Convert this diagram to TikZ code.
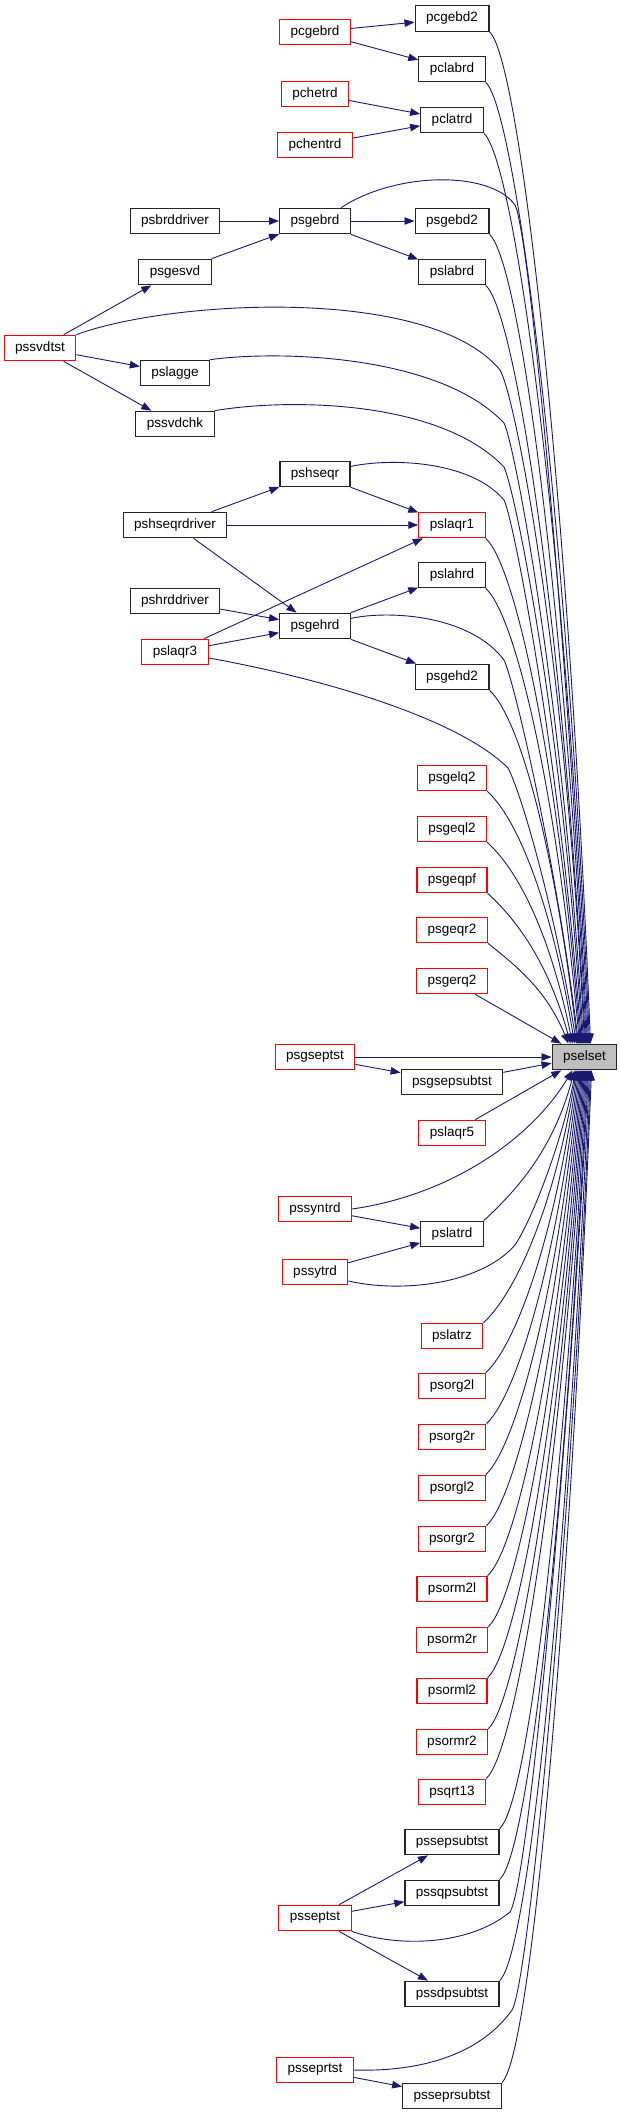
\documentclass[tikz,border=0pt]{standalone}
\usepackage{fontspec}
\setmainfont{Liberation Sans}
\usetikzlibrary{arrows.meta}
\definecolor{midnightblue}{HTML}{191970}
\begin{document}
\begin{tikzpicture}[x=1pt,y=-1pt,>={Triangle[length=10pt,width=7.5pt]},
  box/.style={draw=black!85,line width=1.2pt,fill=white,inner xsep=11pt,inner ysep=0pt,
    minimum height=25.5pt,font=\fontsize{13.5}{16}\selectfont},
  redbox/.style={box,draw=red},
  selbox/.style={box,fill=black!25},
  edge/.style={->,draw=midnightblue,line width=0.9pt}]
  \useasboundingbox (0,0) rectangle (619,2115);
  \node[selbox] (pselset) at (584.5,1057) {pselset};
  \node[box] (pcgebd2) at (452,18.5) {pcgebd2};
  \node[redbox] (pcgebrd) at (315,32) {pcgebrd};
  \node[box] (pclabrd) at (452,69) {pclabrd};
  \node[redbox] (pchetrd) at (315,94) {pchetrd};
  \node[box] (pclatrd) at (452,120) {pclatrd};
  \node[redbox] (pchentrd) at (315,145) {pchentrd};
  \node[box] (psbrddriver) at (175,221) {psbrddriver};
  \node[box] (psgebrd) at (315,221) {psgebrd};
  \node[box] (psgebd2) at (452,221) {psgebd2};
  \node[box] (psgesvd) at (175,272) {psgesvd};
  \node[box] (pslabrd) at (452,272) {pslabrd};
  \node[redbox] (pssvdtst) at (40,348) {pssvdtst};
  \node[box] (pslagge) at (175,373) {pslagge};
  \node[box] (pssvdchk) at (175,424) {pssvdchk};
  \node[box] (pshseqr) at (315,474) {pshseqr};
  \node[box] (pshseqrdriver) at (175,525) {pshseqrdriver};
  \node[redbox] (pslaqr1) at (452,525) {pslaqr1};
  \node[box] (pslahrd) at (452,575) {pslahrd};
  \node[box] (pshrddriver) at (175,601) {pshrddriver};
  \node[box] (psgehrd) at (315,626) {psgehrd};
  \node[redbox] (pslaqr3) at (175,652) {pslaqr3};
  \node[box] (psgehd2) at (452,677) {psgehd2};
  \node[redbox] (psgelq2) at (452,778) {psgelq2};
  \node[redbox] (psgeql2) at (452,829) {psgeql2};
  \node[redbox] (psgeqpf) at (452,880) {psgeqpf};
  \node[redbox] (psgeqr2) at (452,930) {psgeqr2};
  \node[redbox] (psgerq2) at (452,981) {psgerq2};
  \node[redbox] (psgseptst) at (315,1057) {psgseptst};
  \node[box] (psgsepsubtst) at (452,1082) {psgsepsubtst};
  \node[redbox] (pslaqr5) at (452,1133) {pslaqr5};
  \node[redbox] (pssyntrd) at (315,1209) {pssyntrd};
  \node[box] (pslatrd) at (452,1234) {pslatrd};
  \node[redbox] (pssytrd) at (315,1272) {pssytrd};
  \node[redbox] (pslatrz) at (452,1336) {pslatrz};
  \node[redbox] (psorg2l) at (452,1386) {psorg2l};
  \node[redbox] (psorg2r) at (452,1437) {psorg2r};
  \node[redbox] (psorgl2) at (452,1488) {psorgl2};
  \node[redbox] (psorgr2) at (452,1539) {psorgr2};
  \node[redbox] (psorm2l) at (452,1589) {psorm2l};
  \node[redbox] (psorm2r) at (452,1640) {psorm2r};
  \node[redbox] (psorml2) at (452,1691) {psorml2};
  \node[redbox] (psormr2) at (452,1742) {psormr2};
  \node[redbox] (psqrt13) at (452,1792) {psqrt13};
  \node[box] (pssepsubtst) at (452,1842) {pssepsubtst};
  \node[box] (pssqpsubtst) at (452,1893) {pssqpsubtst};
  \node[redbox] (psseptst) at (315,1918) {psseptst};
  \node[box] (pssdpsubtst) at (452,1994) {pssdpsubtst};
  \node[redbox] (psseprtst) at (315,2070) {psseprtst};
  \node[box] (psseprsubtst) at (452,2096) {psseprsubtst};
  \draw[edge] (pcgebrd) -- (pcgebd2);
  \draw[edge] (pcgebrd) -- (pclabrd);
  \draw[edge] (pchetrd) -- (pclatrd);
  \draw[edge] (pchentrd) -- (pclatrd);
  \draw[edge] (psbrddriver) -- (psgebrd);
  \draw[edge] (psgesvd) -- (psgebrd);
  \draw[edge] (psgebrd) -- (psgebd2);
  \draw[edge] (psgebrd) -- (pslabrd);
  \draw[edge] (pssvdtst) -- (psgesvd);
  \draw[edge] (pssvdtst) -- (pslagge);
  \draw[edge] (pssvdtst) -- (pssvdchk);
  \draw[edge] (pshseqrdriver) -- (pshseqr);
  \draw[edge] (pshseqrdriver) -- (pslaqr1);
  \draw[edge] (pshseqrdriver) -- (psgehrd);
  \draw[edge] (pshseqr) -- (pslaqr1);
  \draw[edge] (pslaqr3) -- (pslaqr1);
  \draw[edge] (pshrddriver) -- (psgehrd);
  \draw[edge] (pslaqr3) -- (psgehrd);
  \draw[edge] (psgehrd) -- (pslahrd);
  \draw[edge] (psgehrd) -- (psgehd2);
  \draw[edge] (psgseptst) -- (psgsepsubtst);
  \draw[edge] (pssyntrd) -- (pslatrd);
  \draw[edge] (pssytrd) -- (pslatrd);
  \draw[edge] (psseptst) -- (pssepsubtst);
  \draw[edge] (psseptst) -- (pssqpsubtst);
  \draw[edge] (psseptst) -- (pssdpsubtst);
  \draw[edge] (psseprtst) -- (psseprsubtst);
  \draw[edge] (pcgebd2.south east) .. controls (520,59) and (568,487) .. ([xshift=6pt]pselset.north);
  \draw[edge] (pclabrd.south east) .. controls (516,110) and (567,515) .. ([xshift=5pt]pselset.north);
  \draw[edge] (pclatrd.south east) .. controls (515,161) and (566,543) .. ([xshift=4pt]pselset.north);
  \draw[edge] (psgebrd.27) .. controls (395,172) and (490,170) .. (515,205) .. controls (528,228) and (565,600) .. ([xshift=3pt]pselset.north);
  \draw[edge] (psgebd2.south east) .. controls (520,262) and (564,599) .. ([xshift=2pt]pselset.north);
  \draw[edge] (pslabrd.south east) .. controls (516,313) and (563,627) .. ([xshift=1pt]pselset.north);
  \draw[edge] (pssvdtst.north east) .. controls (170,300) and (430,285) .. (500,370) .. controls (515,395) and (565,650) .. (pselset.north);
  \draw[edge] (pslagge.north east) .. controls (280,350) and (440,355) .. (504,423) .. controls (515,445) and (563,700) .. ([xshift=-1pt]pselset.north);
  \draw[edge] (pssvdchk.north east) .. controls (290,398) and (440,400) .. (504,467) .. controls (515,490) and (562,720) .. ([xshift=-2pt]pselset.north);
  \draw[edge] (pshseqr.12) .. controls (390,458) and (470,460) .. (504,500) .. controls (514,520) and (560,760) .. ([xshift=-3pt]pselset.north);
  \draw[edge] (pslaqr1.south east) .. controls (516,566) and (558,766) .. ([xshift=-4pt]pselset.north);
  \draw[edge] (pslahrd.south east) .. controls (516,616) and (557,794) .. ([xshift=-5pt]pselset.north);
  \draw[edge] (psgehrd.12) .. controls (390,610) and (470,615) .. (504,660) .. controls (514,680) and (556,860) .. ([xshift=-6pt]pselset.north);
  \draw[edge] (psgehd2.south east) .. controls (520,718) and (555,850) .. ([xshift=-7pt]pselset.north);
  \draw[edge] (pslaqr3.-10) .. controls (330,680) and (460,720) .. (508,768) .. controls (520,790) and (553,900) .. ([xshift=-8pt]pselset.north);
  \draw[edge] (psgelq2.south east) .. controls (518,819) and (552,905) .. ([xshift=-10pt]pselset.north);
  \draw[edge] (psgeql2.south east) .. controls (518,870) and (550,933) .. ([xshift=-12pt]pselset.north);
  \draw[edge] (psgeqpf.south east) .. controls (515,918) and (548,961) .. ([xshift=-14pt]pselset.north);
  \draw[edge] (psgeqr2.south east) .. controls (515,965) and (546,989) .. ([xshift=-16pt]pselset.north);
  \draw[edge] (psgerq2) -- (pselset);
  \draw[edge] (psgseptst) -- (pselset);
  \draw[edge] (psgsepsubtst) -- (pselset);
  \draw[edge] (pslaqr5) -- (pselset);
  \draw[edge] (pssyntrd.east) .. controls (450,1195) and (530,1140) .. ([xshift=-12pt]pselset.south);
  \draw[edge] (pslatrd.north east) .. controls (513,1193) and (552,1154) .. ([xshift=-10pt]pselset.south);
  \draw[edge] (pssytrd.-15) .. controls (400,1293) and (480,1285) .. (515,1245) .. controls (535,1215) and (565,1130) .. ([xshift=-9pt]pselset.south);
  \draw[edge] (pslatrz.north east) .. controls (514,1295) and (554,1210) .. ([xshift=-8pt]pselset.south);
  \draw[edge] (psorg2l.north east) .. controls (516,1345) and (555,1237) .. ([xshift=-7pt]pselset.south);
  \draw[edge] (psorg2r.north east) .. controls (516,1396) and (556,1265) .. ([xshift=-6pt]pselset.south);
  \draw[edge] (psorgl2.north east) .. controls (516,1447) and (557,1293) .. ([xshift=-5pt]pselset.south);
  \draw[edge] (psorgr2.north east) .. controls (516,1498) and (558,1321) .. ([xshift=-4pt]pselset.south);
  \draw[edge] (psorm2l.north east) .. controls (518,1548) and (559,1349) .. ([xshift=-3pt]pselset.south);
  \draw[edge] (psorm2r.north east) .. controls (518,1599) and (560,1377) .. ([xshift=-2pt]pselset.south);
  \draw[edge] (psorml2.north east) .. controls (518,1650) and (561,1405) .. ([xshift=-1pt]pselset.south);
  \draw[edge] (psormr2.north east) .. controls (518,1701) and (562,1433) .. (pselset.south);
  \draw[edge] (psqrt13.north east) .. controls (517,1751) and (563,1460) .. ([xshift=1pt]pselset.south);
  \draw[edge] (pssepsubtst.north east) .. controls (529,1801) and (564,1488) .. ([xshift=2pt]pselset.south);
  \draw[edge] (pssqpsubtst.north east) .. controls (529,1852) and (565,1516) .. ([xshift=3pt]pselset.south);
  \draw[edge] (psseptst.south east) .. controls (400,1948) and (470,1945) .. (510,1912) .. controls (530,1880) and (572,1400) .. ([xshift=4pt]pselset.south);
  \draw[edge] (pssdpsubtst.north east) .. controls (529,1953) and (567,1571) .. ([xshift=5pt]pselset.south);
  \draw[edge] (psseprtst.east) .. controls (420,2072) and (480,2055) .. (512,2010) .. controls (530,1980) and (574,1500) .. ([xshift=6pt]pselset.south);
  \draw[edge] (psseprsubtst.north east) .. controls (531,2055) and (569,1628) .. ([xshift=7pt]pselset.south);
\end{tikzpicture}
\end{document}
